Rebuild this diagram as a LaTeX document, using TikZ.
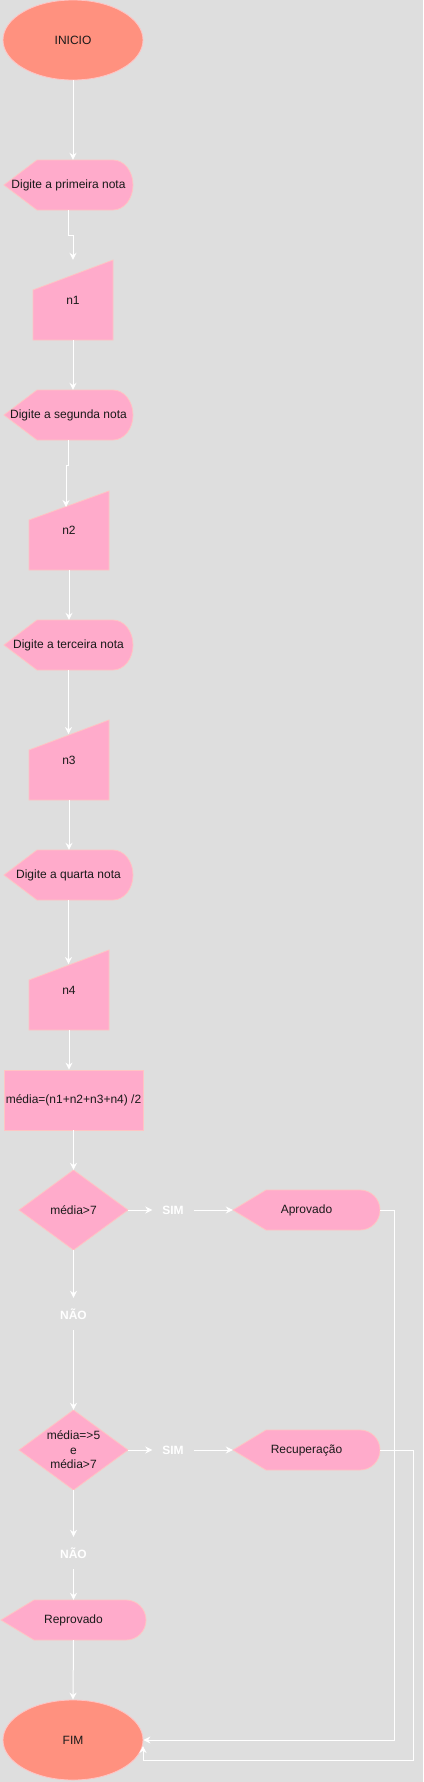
\documentclass[tikz,border=0pt]{standalone}
\usepackage{fontspec}
\setmainfont{Liberation Sans}
\usetikzlibrary{shapes.geometric,arrows.meta,calc}
\definecolor{bg}{HTML}{DEDEDE}
\definecolor{pinkf}{HTML}{FFABCB}
\definecolor{pinkd}{HTML}{FFC4C4}
\definecolor{salmon}{HTML}{FF917F}
\definecolor{txt}{HTML}{1A1A1A}
\newcommand{\dispshape}[4]{%
  \pgfmathsetmacro\dym{(#3+#4)/2}%
  \pgfmathsetmacro\dry{(#3-#4)/2}%
  \path[shp] (#1,\dym) -- (#1+33,#3) -- (#2-20,#3) arc[start angle=90,end angle=-90,x radius=20,y radius=\dry] -- (#1+33,#4) -- cycle;}
\newcommand{\manshape}[5]{%
  \path[shp] (#1,#3) -- (#2,#4) -- (#2,#5) -- (#1,#5) -- cycle;}
\newcommand{\diashape}[5]{% cx cy left right halfheight
  \path[shp] (#1,#2+#5) -- (#4,#2) -- (#1,#2-#5) -- (#3,#2) -- cycle;}
\begin{document}
\begin{tikzpicture}[x=1pt,y=1pt,
  lbl/.style={font=\fontsize{12}{14.5}\selectfont, text=txt, align=center, inner sep=0pt},
  shp/.style={fill=pinkf, draw=pinkd, line width=0.8pt},
  term/.style={lbl, ellipse, fill=salmon, draw=pinkd, line width=0.8pt, minimum width=140pt, minimum height=80pt},
  hold/.style={lbl, minimum width=#1},
  arr/.style={draw=white, line width=1pt, -{Stealth[length=7pt,width=7pt]}},
  yn/.style={font=\fontsize{12}{14}\selectfont\bfseries, text=white, inner sep=0pt, minimum width=41pt, minimum height=32pt}]
\fill[bg] (0,0) rectangle (423,-1782);
\useasboundingbox (0,0) rectangle (423,-1782);

\node[term] (inicio) at (73,-40) {INICIO};

\dispshape{4}{133}{-160}{-210}
\node[hold=129pt, minimum height=50pt] (d1) at (68.5,-185) {Digite a primeira nota};
\manshape{33}{113}{-290}{-260}{-340}
\node[hold=80pt, minimum height=80pt] (n1) at (73,-300) {n1};

\dispshape{4}{133}{-390}{-440}
\node[hold=129pt, minimum height=50pt] (d2) at (68.5,-415) {Digite a segunda nota};
\manshape{29}{109}{-520}{-491}{-570}
\node[hold=80pt, minimum height=79pt] (n2) at (69,-530.5) {n2};

\dispshape{4}{133}{-620}{-670}
\node[hold=129pt, minimum height=50pt] (d3) at (68.5,-645) {Digite a terceira nota};
\manshape{29}{109}{-750}{-720}{-800}
\node[hold=80pt, minimum height=80pt] (n3) at (69,-760) {n3};

\dispshape{4}{133}{-850}{-900}
\node[hold=129pt, minimum height=50pt] (d4) at (68.5,-875) {Digite a quarta nota};
\manshape{29}{109}{-980}{-950}{-1030}
\node[hold=80pt, minimum height=80pt] (n4) at (69,-990) {n4};

\node[lbl, fill=pinkf, draw=pinkd, line width=0.8pt, minimum width=139pt, minimum height=60pt] (calc) at (73.5,-1100) {média=(n1+n2+n3+n4) /2};

\diashape{73.5}{-1210}{19}{128}{40}
\node[hold=109pt, minimum height=80pt] (q1) at (73.5,-1210) {média>7};
\node[yn] (sim1) at (173,-1210) {SIM};
\dispshape{233}{380}{-1190}{-1230}
\node[hold=147pt, minimum height=40pt] (ap) at (306.5,-1210) {Aprovado};
\node[yn] (nao1) at (73.5,-1314) {NÃO};

\diashape{73.5}{-1450}{19}{128}{40}
\node[hold=109pt, minimum height=80pt] (q2) at (73.5,-1450) {média=>5\\e\\média>7};
\node[yn] (sim2) at (173,-1450) {SIM};
\dispshape{233}{380}{-1430}{-1470}
\node[hold=147pt, minimum height=40pt] (rec) at (306.5,-1450) {Recuperação};
\node[yn] (nao2) at (73.5,-1553) {NÃO};

\dispshape{1}{146}{-1600}{-1640}
\node[hold=145pt, minimum height=40pt] (rep) at (73.5,-1620) {Reprovado};

\node[term] (fim) at (73,-1740) {FIM};

\coordinate (c2) at (66,-507);
\coordinate (c3) at (68.5,-734);
\coordinate (c4) at (68.5,-964);
\coordinate (fimc) at (143,-1760);
\coordinate (fimin) at (143,-1746);

\draw[arr] (inicio.south) -- (inicio.south |- d1.north);
\draw[arr] (d1.south) -- ++(0,-25) -| (n1.north);
\draw[arr] (n1.south) -- (n1.south |- d2.north);
\draw[arr] (d2.south) -- ++(0,-25) -| (c2);
\draw[arr] (n2.south) -- (n2.south |- d3.north);
\draw[arr] (d3.south) -- (c3);
\draw[arr] (n3.south) -- (n3.south |- d4.north);
\draw[arr] (d4.south) -- (c4);
\draw[arr] (n4.south) -- (n4.south |- calc.north);
\draw[arr] (calc.south) -- (q1.north);
\draw[arr] (q1.east) -- (sim1.west);
\draw[arr] (sim1.east) -- (ap.west);
\draw[arr] (ap.east) -- ++(14,0) |- (fim.east);
\draw[arr] (q1.south) -- (nao1.north);
\draw[arr] (nao1.south) -- (q2.north);
\draw[arr] (q2.east) -- (sim2.west);
\draw[arr] (sim2.east) -- (rec.west);
\draw[arr] (rec.east) -- ++(33,0) |- (fimc) -- (fimin);
\draw[arr] (q2.south) -- (nao2.north);
\draw[arr] (nao2.south) -- (rep.north);
\draw[arr] (rep.south) -- (fim.north);
\end{tikzpicture}
\end{document}
